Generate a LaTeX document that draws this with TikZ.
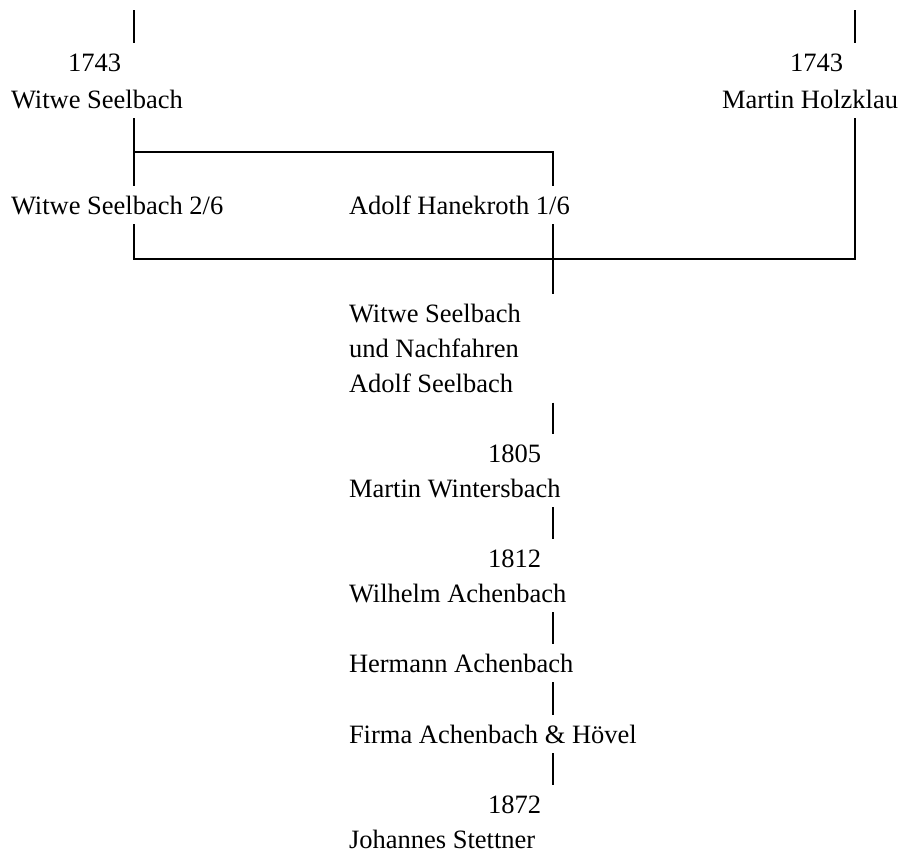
\documentclass[tikz,border=0pt]{standalone}
\usepackage{fontspec}
\setmainfont{Liberation Serif}
\usepackage{tikz}

\begin{document}
\begin{tikzpicture}[x=1pt, y=-1pt, line width=2pt,
        lbl/.style={inner xsep=0pt, inner ysep=9pt, text height=18pt, text depth=0pt,
            font=\fontsize{26.5pt}{35pt}\selectfont},
        blk/.style={inner xsep=0pt, inner ysep=9pt, align=left,
            font=\fontsize{26.5pt}{35pt}\selectfont}]
        \useasboundingbox (0,0) rectangle (902,852);

        \coordinate (topL) at (134,10);
        \coordinate (topR) at (855,10);
        \coordinate (forkL) at (134,152);
        \coordinate (forkM) at (553,152);
        \coordinate (joinL) at (134,259);
        \coordinate (joinR) at (855,259);

        \node[lbl, anchor=base east] (yrL) at (122,71) {1743};
        \node[lbl, anchor=base west] (seelL) at (10,108) {Witwe Seelbach};
        \node[lbl, anchor=base east] (yrR) at (844,71) {1743};
        \node[lbl, anchor=base east] (holz) at (899,108) {Martin Holzklau};

        \node[lbl, anchor=base west] (seelT) at (10,214) {Witwe Seelbach 2/6};
        \node[lbl, anchor=base west] (hane) at (348,214) {Adolf Hanekroth 1/6};

        \node[blk, anchor=north west] (erben) at (348,294) {Witwe Seelbach\\und Nachfahren\\Adolf Seelbach};

        \node[lbl, anchor=base east] (yrA) at (542,462) {1805};
        \node[lbl, anchor=base west] (wint) at (348,497) {Martin Wintersbach};
        \node[lbl, anchor=base east] (yrB) at (542,567) {1812};
        \node[lbl, anchor=base west] (wilh) at (348,602) {Wilhelm Achenbach};
        \node[lbl, anchor=base west] (herm) at (348,672) {Hermann Achenbach};
        \node[lbl, anchor=base west] (firma) at (348,743) {Firma Achenbach \& Hövel};
        \node[lbl, anchor=base east] (yrC) at (542,813) {1872};
        \node[lbl, anchor=base west] (stet) at (348,848) {Johannes Stettner};

        \draw (topL) -- (topL |- yrL.north);
        \draw (topR) -- (topR |- yrR.north);

        \draw (seelL.south -| topL) -- (seelT.north -| topL);
        \draw (forkL) -- (forkM) -- (forkM |- hane.north);

        \draw (seelT.south -| topL) -- (joinL) -- (joinR) -- (holz.south -| topR);
        \draw (hane.south -| forkM) -- (erben.north -| forkM);

        \draw (erben.south -| forkM) -- (yrA.north -| forkM);
        \draw (wint.south -| forkM) -- (yrB.north -| forkM);
        \draw (wilh.south -| forkM) -- (herm.north -| forkM);
        \draw (herm.south -| forkM) -- (firma.north -| forkM);
        \draw (firma.south -| forkM) -- (yrC.north -| forkM);
    \end{tikzpicture}
\end{document}
